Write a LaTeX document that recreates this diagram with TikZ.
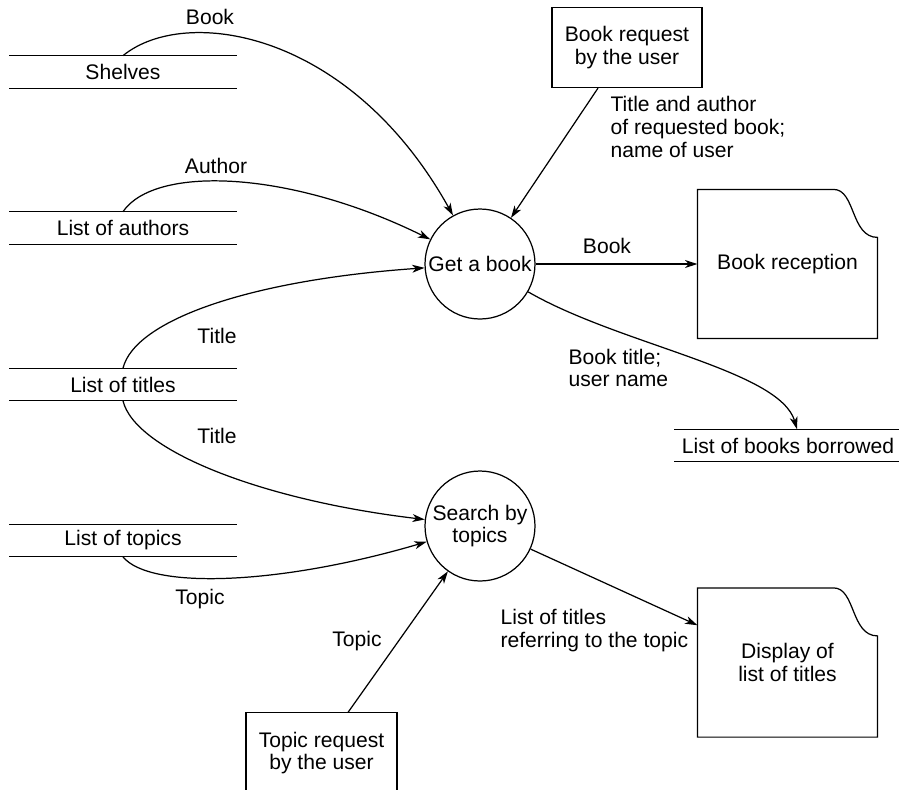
\documentclass[tikz,border=0pt]{standalone}
\usepackage{fontspec}
\setmainfont{Liberation Sans}
\usetikzlibrary{arrows.meta}
\usetikzlibrary{calc,positioning}

% sheet with a curled top right corner
\newcommand{\docoutline}[1]{%
  \draw (#1.south west) -- (#1.north west) -- ($(#1.north east)+(-44,0)$)
    .. controls ($(#1.north east)+(-22,0)$) and ($(#1.north east)+(-27,48)$)
    .. ($(#1.north east)+(0,48)$) -- (#1.south east) -- cycle;}

\begin{document}
\begin{tikzpicture}[x=0.02cm,y=-0.02cm,>={Stealth[length=7pt,width=4.5pt,inset=2pt]},
  line width=0.7pt,
  font=\fontsize{12}{13}\selectfont,
  process/.style={circle,draw,minimum size=2.2cm,inner sep=0pt,align=center},
  store/.style={minimum width=4.52cm,minimum height=0.63cm,inner sep=0pt},
  entity/.style={minimum width=3cm,minimum height=1.6cm,align=center},
  doc/.style={minimum width=3.58cm,minimum height=2.96cm,align=center},
  flow/.style={->},
  lbl/.style={inner sep=0pt,align=left}]
\useasboundingbox (0,0) rectangle (899,789);

\node[store] (shelves) at (123,72) {Shelves};
\node[store] (authors) at (123,228) {List of authors};
\node[store] (titles) at (123,384.5) {List of titles};
\node[store] (topics) at (123,540.5) {List of topics};
\node[store] (borrowed) at (788,445.5) {List of books borrowed};
\foreach \s in {shelves,authors,titles,topics,borrowed}
  \draw (\s.north west) -- (\s.north east) (\s.south west) -- (\s.south east);

\node[process] (getbook) at (480,264) {Get a book};
\node[process] (search) at (480,526) {Search by\\topics};

\node[entity,draw] (breq) at (627,47.5) {Book request\\by the user};
\node[entity] (treq) at (321.5,753) {Topic request\\by the user};
\draw (treq.south west) -- (treq.north west) -- (treq.north east) -- (treq.south east);

\node[doc] (rec) at (787.5,264) {Book reception};
\node[doc] (disp) at (787.5,662.5) {Display of\\list of titles};
\docoutline{rec}
\docoutline{disp}

% flows into Get a book
\draw[flow] (shelves.north) .. controls (185,5) and (350,30) .. (getbook);
\draw[flow] (authors.north) .. controls (155,165) and (290,170) .. (getbook);
\draw[flow] (titles.north) .. controls (135,320) and (250,280) .. (getbook);
\draw[flow] ($(breq.south)+(-29,0)$) -- (getbook);
% flows into Search by topics
\draw[flow] (titles.south) .. controls (135,450) and (260,500) .. (search);
\draw[flow] (topics.south) .. controls (150,590) and (280,585) .. (search);
\draw[flow] ($(treq.north)+(26.5,0)$) -- (search);
% outgoing flows
\draw[flow] (getbook) -- (rec);
\draw[flow] (getbook) .. controls (620,345) and (780,370) .. ($(borrowed.north)+(9,0)$);
\draw[flow] (search) -- ($(disp.north west)!0.25!(disp.south west)$);

\node[lbl] (lbook) at (210,17) {Book};
\node[lbl] (lauthor) at (216,166) {Author};
\node[lbl] (ltitleup) at (217,336) {Title};
\node[lbl] (ltitledown) at (217,436) {Title};
\node[lbl] (ltopic) at (200,599) {Topic};
\node[lbl] (ltopicreq) at (357,641) {Topic};
\node[lbl,anchor=west] (lreq) at (610,127) {Title and author\\of requested book;\\name of user};
\node[lbl] (lbookout) at (607,246) {Book};
\node[lbl,anchor=west] (lborrow) at (568,368) {Book title;\\user name};
\node[lbl,anchor=west] (lresult) at (500,630.5) {List of titles\\referring to the topic};
\end{tikzpicture}
\end{document}
